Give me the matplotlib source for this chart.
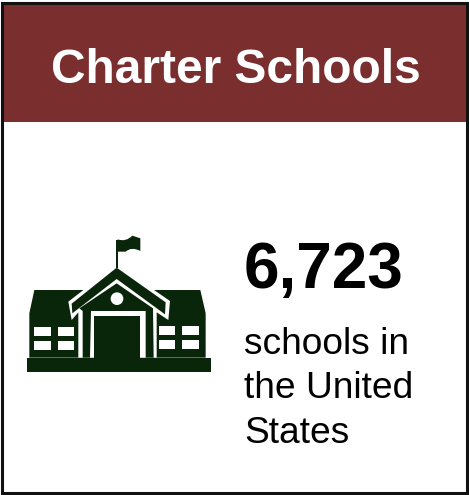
import matplotlib
matplotlib.use("Agg")
import matplotlib.pyplot as plt
from matplotlib.patches import Polygon, Rectangle, Circle, PathPatch
from matplotlib.path import Path

TITLE = "Charter Schools"
VALUE = "6,723"
CAPTION = ["schools in", "the United", "States"]
MAROON = "#7a2e2e"
GREEN = "#0a260a"
FONT = ["Liberation Sans", "DejaVu Sans"]

W, H = 469, 495
fig = plt.figure(figsize=(W / 100, H / 100), dpi=100)
ax = fig.add_axes([0, 0, 1, 1])
ax.set_xlim(0, W)
ax.set_ylim(H, 0)
ax.axis("off")

ax.add_patch(Rectangle((2, 3), 464, 119, fc=MAROON, ec="none"))
ax.add_patch(Rectangle((1.5, 3), 465.5, 490, fc="none", ec="#111111", lw=2.2))

ax.text(235.5, 83, TITLE, color="white", fontsize=34.5, fontweight="bold", family=FONT,
        ha="center", va="baseline")
ax.text(243.5, 288, VALUE, color="black", fontsize=46, fontweight="bold", family=FONT,
        ha="left", va="baseline")
for y, line in zip([354, 398, 443], CAPTION):
    ax.text(244, y, line, color="black", fontsize=26.7, family=FONT, ha="left", va="baseline")


def pts(seq):
    """Icon outline, given in 3x zoom coordinates of the reference crop."""
    return [(15 + x / 3, 225 + y / 3) for x, y in seq]


def poly(seq, color):
    ax.add_patch(Polygon(pts(seq), closed=True, fc=color, ec="none"))


def rect(x0, y0, x1, y1, color):
    poly([(x0, y0), (x1, y0), (x1, y1), (x0, y1)], color)


rect(36, 398, 587, 440, GREEN)
poly([(43, 398), (43, 265), (58, 195), (556, 195), (572, 265), (572, 398)], GREEN)
poly([(305, 118), (465, 228), (460, 285), (425, 262), (425, 398), (190, 398), (190, 262),
      (170, 285), (160, 230)], "white")
poly([(305, 128), (452, 232), (450, 268), (305, 162), (172, 265), (170, 236)], GREEN)
poly([(305, 175), (414, 250), (416, 398), (392, 398), (392, 258), (228, 258), (225, 398),
      (203, 398), (203, 258), (193, 250)], GREEN)
rect(238, 272, 375, 398, GREEN)
ax.add_patch(Circle(pts([(306, 221)])[0], 19 / 3, fc="white", ec="none"))
for x0, x1, y0, y1 in [(58, 108, 305, 332), (130, 178, 305, 332), (58, 108, 347, 375), (130, 178, 347, 375),
                       (432, 480, 303, 330), (502, 552, 303, 330), (432, 480, 345, 372), (502, 552, 345, 372)]:
    rect(x0, y0, x1, y1, "white")
rect(302, 45, 310, 128, GREEN)
verts = pts([(308, 43), (332, 52), (352, 32), (376, 40), (376, 78), (350, 64), (332, 80), (308, 80), (308, 43)])
codes = [Path.MOVETO, Path.CURVE3, Path.CURVE3, Path.LINETO, Path.LINETO, Path.CURVE3, Path.CURVE3, Path.LINETO, Path.CLOSEPOLY]
ax.add_patch(PathPatch(Path(verts, codes), fc=GREEN, ec="none"))

fig.savefig("out.png", dpi=100)
